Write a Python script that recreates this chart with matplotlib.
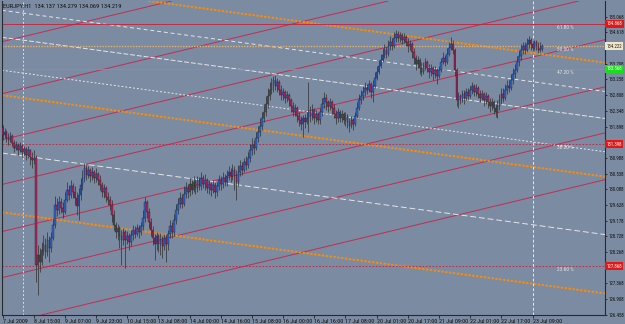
import matplotlib
matplotlib.use('Agg')
import matplotlib.pyplot as plt
from matplotlib import font_manager as fm

# ---------------- data ----------------
header = "EURJPY,H1  134.137 134.279 134.069 134.219"
first_open = 131.86
closes = [131.65,131.74,131.57,131.51,131.62,131.42,131.28,131.37,131.22,131.34,
          131.16,131.25,131.08,131.22,131.02,130.93,130.99,127.90,128.19,127.99,
          128.34,128.48,128.28,128.62,128.39,128.68,129.06,129.63,129.49,129.72,
          129.55,129.43,129.78,130.07,129.92,130.18,130.01,129.84,129.60,129.92,
          130.21,130.41,130.70,130.50,130.64,130.47,130.59,130.41,130.53,130.36,
          130.21,130.01,130.12,129.86,129.78,129.63,129.35,129.06,128.85,128.97,
          128.74,128.62,128.85,128.62,128.74,128.57,128.77,128.91,128.80,128.97,
          128.85,129.03,129.26,129.72,129.43,129.14,128.91,128.68,128.51,128.74,
          128.51,128.62,128.45,128.68,128.51,128.80,129.03,128.85,129.20,129.49,
          129.66,129.84,129.66,129.95,130.12,130.01,130.24,130.07,130.30,130.12,
          130.36,130.18,130.41,130.24,130.36,130.12,130.24,130.07,130.21,130.01,
          130.18,130.36,130.24,130.41,130.30,130.47,130.59,130.47,130.64,130.50,
          130.30,130.59,130.76,130.64,130.87,130.79,130.99,131.22,131.37,131.28,
          131.57,131.74,131.91,132.14,132.32,132.55,132.78,132.95,133.13,133.24,
          133.07,133.18,132.95,132.81,132.89,132.72,132.81,132.66,132.49,132.32,
          132.43,132.20,132.09,131.97,132.14,132.03,132.14,132.32,132.20,132.38,
          132.14,132.26,132.09,132.32,132.55,132.72,132.61,132.49,132.61,132.43,
          132.26,132.14,132.32,132.14,132.26,132.09,132.20,132.03,131.91,132.09,
          131.97,132.20,132.43,132.66,132.78,132.89,133.01,132.95,133.13,132.89,
          133.07,133.30,133.47,133.65,133.82,133.96,134.11,133.99,134.22,134.34,
          134.22,134.45,134.57,134.45,134.54,134.40,134.48,134.34,134.22,134.28,
          134.05,133.88,133.70,133.82,133.59,133.47,133.65,133.76,133.59,133.47,
          133.59,133.41,133.53,133.36,133.53,133.76,133.88,133.76,133.99,134.16,
          134.28,134.11,133.53,132.66,132.78,132.66,132.84,132.72,132.89,132.78,
          132.95,133.07,132.89,133.01,132.84,132.72,132.84,132.66,132.78,132.61,
          132.49,132.61,132.43,132.32,132.49,132.66,132.84,132.72,132.95,133.07,
          133.01,133.24,133.41,133.53,133.76,133.93,134.11,134.22,134.11,134.28,
          134.40,134.28,134.16,134.34,134.22,134.11,134.14,134.22]
highs = [131.94,131.86,131.80,131.71,131.74,131.68,131.51,131.48,131.42,131.45,
         131.39,131.34,131.31,131.34,131.25,131.16,131.22,131.08,128.48,128.39,
         128.57,128.77,128.68,128.85,128.74,128.85,129.26,129.89,129.84,129.89,
         129.84,129.72,130.01,130.30,130.21,130.36,130.27,130.18,130.01,130.12,
         130.41,130.64,130.85,130.79,130.76,130.70,130.73,130.64,130.70,130.59,
         130.50,130.30,130.24,130.18,130.01,129.89,129.78,129.49,129.14,129.09,
         129.03,128.91,128.97,128.91,128.88,128.83,128.91,129.06,129.03,129.09,
         129.06,129.14,129.49,129.86,129.78,129.55,129.26,129.03,128.80,128.85,
         128.80,128.83,128.74,128.80,128.77,128.91,129.20,129.14,129.37,129.66,
         129.84,130.01,129.95,130.18,130.30,130.24,130.41,130.36,130.47,130.38,
         130.47,130.44,130.59,130.50,130.53,130.41,130.36,130.30,130.36,130.30,
         130.30,130.50,130.47,130.59,130.53,130.64,130.76,130.70,130.82,130.76,
         130.64,130.79,130.93,130.87,130.99,131.05,131.16,131.39,131.57,131.51,
         131.74,131.91,132.14,132.32,132.55,132.78,133.01,133.18,133.30,133.36,
         133.39,133.30,133.24,133.10,133.01,132.95,132.92,132.87,132.72,132.61,
         132.55,132.49,132.32,132.20,132.23,132.26,132.32,133.18,132.49,132.55,
         132.43,132.38,132.32,132.43,132.72,132.89,132.84,132.66,132.72,132.66,
         132.55,132.38,132.43,132.38,132.38,132.32,132.32,132.26,132.14,132.20,
         132.14,132.32,132.61,132.84,132.95,133.07,133.18,133.13,133.24,133.18,
         133.24,133.47,133.65,133.82,133.99,134.16,134.28,134.22,134.40,134.51,
         134.45,134.63,134.68,134.65,134.63,134.60,134.60,134.54,134.45,134.40,
         134.34,134.16,133.96,133.93,133.88,133.76,133.76,133.88,133.82,133.70,
         133.70,133.65,133.65,133.59,133.65,133.88,134.05,133.96,134.16,134.34,
         134.48,134.40,134.16,133.59,132.89,132.84,132.95,132.95,133.01,133.01,
         133.07,133.18,133.13,133.13,133.07,132.95,132.95,132.89,132.89,132.84,
         132.72,132.72,132.66,132.55,132.66,132.84,133.01,133.01,133.13,133.24,
         133.24,133.41,133.59,133.70,133.93,134.11,134.28,134.34,134.34,134.45,
         134.51,134.45,134.40,134.40,134.40,134.34,134.34,134.28]
lows = [131.51,131.57,131.45,131.37,131.45,131.34,131.16,131.22,131.08,131.16,
        131.02,131.05,130.93,130.99,130.79,130.70,130.82,127.41,127.04,127.70,
        127.90,128.19,128.10,128.16,127.99,128.28,128.62,128.97,129.32,129.37,
        129.40,129.26,129.37,129.72,129.78,129.84,129.84,129.63,129.35,129.20,
        129.78,130.07,130.30,130.36,130.41,130.30,130.36,130.27,130.30,130.21,
        130.07,129.86,129.84,129.72,129.63,129.49,129.14,128.91,128.68,128.62,
        128.39,127.90,128.48,127.82,128.51,128.34,128.45,128.62,128.68,128.74,
        128.68,128.77,128.91,129.14,129.26,128.97,128.74,128.48,128.05,128.34,
        128.28,128.19,128.10,128.34,127.99,128.34,128.68,128.68,128.74,129.09,
        129.37,129.55,129.55,129.60,129.84,129.84,129.89,129.95,130.01,129.95,
        130.01,130.07,130.07,130.12,130.07,129.98,129.95,129.89,129.98,129.84,
        129.89,130.07,130.07,130.12,130.18,130.18,130.36,130.30,130.36,130.07,
        129.78,130.18,130.47,130.50,130.59,130.64,130.70,130.87,131.08,131.11,
        131.22,131.45,131.62,131.80,132.03,132.20,132.43,132.66,132.84,132.89,
        132.95,132.89,132.81,132.66,132.66,132.58,132.61,132.49,132.32,132.20,
        132.20,132.03,131.91,131.80,131.60,131.86,131.97,131.74,132.03,132.09,
        131.97,132.03,131.97,131.97,132.20,132.43,132.38,132.32,132.38,132.26,
        132.14,131.97,132.03,132.03,132.03,131.97,131.91,131.86,131.74,131.86,
        131.80,131.91,132.14,132.38,132.55,132.66,132.78,132.84,132.89,132.72,
        132.61,133.01,133.24,133.41,133.59,133.76,133.88,133.88,133.93,134.11,
        134.11,134.16,134.34,134.34,134.34,134.28,134.31,134.22,134.05,134.11,
        133.88,133.70,133.53,133.59,133.41,133.36,133.41,133.53,133.47,133.30,
        133.36,133.24,133.30,133.13,133.30,133.47,133.70,133.65,133.70,133.93,
        134.11,133.99,133.36,132.49,132.43,132.55,132.61,132.55,132.66,132.66,
        132.72,132.84,132.78,132.78,132.72,132.61,132.66,132.49,132.55,132.43,
        132.32,132.38,132.26,132.17,132.14,132.38,132.55,132.61,132.66,132.84,
        132.89,132.95,133.13,133.30,133.47,133.65,133.82,133.99,133.99,134.05,
        134.16,134.11,134.05,134.11,134.11,134.02,134.05,134.07]
opens = [first_open] + closes[:-1]

xtick_pos = [0, 16, 32, 48, 64, 80, 96, 112, 128, 144, 160, 176, 192, 208, 224, 240, 256, 272]
xtick_labels = ["7 Jul 2009", "8 Jul 15:00", "9 Jul 07:00", "9 Jul 23:00", "10 Jul 15:00",
                "13 Jul 08:00", "14 Jul 00:00", "14 Jul 16:00", "15 Jul 08:00", "16 Jul 00:00",
                "16 Jul 16:00", "17 Jul 08:00", "20 Jul 01:00", "20 Jul 17:00", "21 Jul 09:00",
                "22 Jul 01:00", "22 Jul 17:00", "23 Jul 09:00"]
ytick_vals = [135.068, 134.618, 133.708, 133.258, 132.808, 132.348, 131.898, 130.988,
              130.538, 130.088, 129.628, 129.178, 128.728, 128.268, 127.368, 126.908, 126.458]

# trend-line anchors: price at bar 0 and bar 300
anchor_bars = [0, 300]
red_start = [134.35, 132.85, 131.52, 130.23, 128.87, 127.54, 126.19]
red_end = [138.40, 136.90, 135.58, 134.28, 132.92, 131.59, 130.24]
orange_start = [136.09, 132.80, 129.42]
orange_end = [133.81, 130.52, 127.15]
white_start = [135.25, 134.47, 133.52, 131.13]
white_end = [132.98, 132.20, 131.24, 128.85]

# horizontal levels
level_vals = [134.87, 134.222, 133.57, 131.39, 127.87]
level_labels = ["61.80 %", "50.00 %", "47.20 %", "38.20 %", "23.60 %"]
level_box_text = ["134.868", "134.222", "133.568", "131.398", "127.868"]
vline_bars = [10.3, 272]

# ---------------- fonts ----------------
avail = {f.name for f in fm.fontManager.ttflist}
cands = ['Roboto Condensed', 'Liberation Sans Narrow', 'Archivo Narrow', 'PT Sans Narrow',
         'Arimo', 'DejaVu Sans']
FONT = next(c for c in cands if c in avail)
plt.rcParams['font.family'] = [FONT, 'DejaVu Sans']
narrow = FONT != 'DejaVu Sans'
FSY = 3.5 if narrow else 2.8
FS = 3.9 if narrow else 3.1
FSX = 4.3 if narrow else 3.3
FSH = 4.6 if narrow else 3.6

# ---------------- drawing ----------------
BG = '#7b8ba2'
W, H = 625, 324
fig = plt.figure(figsize=(W/100, H/100), dpi=100, facecolor=BG)
ax = fig.add_axes([2/W, 9/H, 603/W, 314/H], facecolor=BG)
ax.set_xlim(-0.3, 309.2)
ax.set_ylim(126.459, 135.521)

for s in ax.spines.values():
    s.set_color('#2a2a2a'); s.set_linewidth(0.8)
ax.spines['top'].set_visible(False)

# trend lines
for s, e in zip(red_start, red_end):
    ax.axline((anchor_bars[0], s), (anchor_bars[1], e), color='#c42c52', lw=0.7, zorder=1)
for s, e in zip(orange_start, orange_end):
    ax.axline((anchor_bars[0], s), (anchor_bars[1], e), color='#ff8c00', lw=1.4,
              ls=(0, (1.2, 0.8)), zorder=1)
white_styles = [(0, (4, 3)), (0, (5, 2)), (0, (2, 2)), (0, (6, 3))]
for (s, e), st in zip(zip(white_start, white_end), white_styles):
    ax.axline((anchor_bars[0], s), (anchor_bars[1], e), color='#e6e6e6', lw=0.7,
              ls=st, zorder=1)

# horizontal levels
lvl_colors = ['#c8203c', '#e8b060', '#22dd22', '#c8203c', '#c8203c']
lvl_styles = ['-', (0, (1, 1)), '-', (0, (2, 2)), (0, (2, 2))]
lvl_widths = [0.6, 1.0, 0.6, 0.6, 0.6]
for v, c, st, lw in zip(level_vals, lvl_colors, lvl_styles, lvl_widths):
    ax.axhline(v, color=c, lw=lw, ls=st, zorder=1)
for v, lab in zip(level_vals, level_labels):
    ax.text(284.5, v - 0.03, lab, fontsize=FS, color='#e4e4e4', va='top', ha='left', zorder=3)

# vertical markers
ax.axvline(vline_bars[0], color='#e8e0a0', lw=0.7, ls=(0, (2, 2)), zorder=1)
ax.axvline(vline_bars[1], color='#e8e8e8', lw=0.7, ls=(0, (3, 2)), zorder=1)

# candles
for i, (h, l) in enumerate(zip(highs, lows)):
    ax.plot([i, i], [l, h], color='#303030', lw=0.5, zorder=4, solid_capstyle='butt')
for i, (o, c) in enumerate(zip(opens, closes)):
    col = '#2a66d0' if c >= o else '#b02458'
    hgt = max(abs(c - o), 0.012)
    ax.bar(i, hgt, bottom=min(o, c), width=0.85, color=col, edgecolor='#202020',
           linewidth=0.25, zorder=5)

# axes ticks
ax.yaxis.tick_right()
ax.set_yticks(ytick_vals)
ax.set_yticklabels([f"{v:.3f}" for v in ytick_vals], fontsize=FSY, color='#101010')
ax.tick_params(axis='y', length=1.5, width=0.6, pad=0.8, color='#202020')
ax.set_xticks(xtick_pos)
ax.set_xticklabels(xtick_labels, fontsize=FSX, color='#101010', ha='left')
ax.tick_params(axis='x', length=2, width=0.6, pad=0.6, color='#202020')

# price boxes on right axis
box_fc = ['#e01818', '#f2e6c8', '#18e018', '#e01818', '#e01818']
box_tc = ['#ffffff', '#202020', '#ffffff', '#ffffff', '#ffffff']
for v, t, fc, tc in zip(level_vals, level_box_text, box_fc, box_tc):
    ax.annotate(t, xy=(1.0, v), xycoords=('axes fraction', 'data'), xytext=(1.0, 0),
                textcoords='offset points', fontsize=FSY, color=tc, va='center', ha='left',
                bbox=dict(boxstyle='square,pad=0.3', fc=fc, ec='none'), annotation_clip=False,
                zorder=10)

fig.text(3/W, 1 - 6/H, header, fontsize=FSH, color='#101010', va='center', ha='left')

fig.savefig('out.png', dpi=100, facecolor=BG)
